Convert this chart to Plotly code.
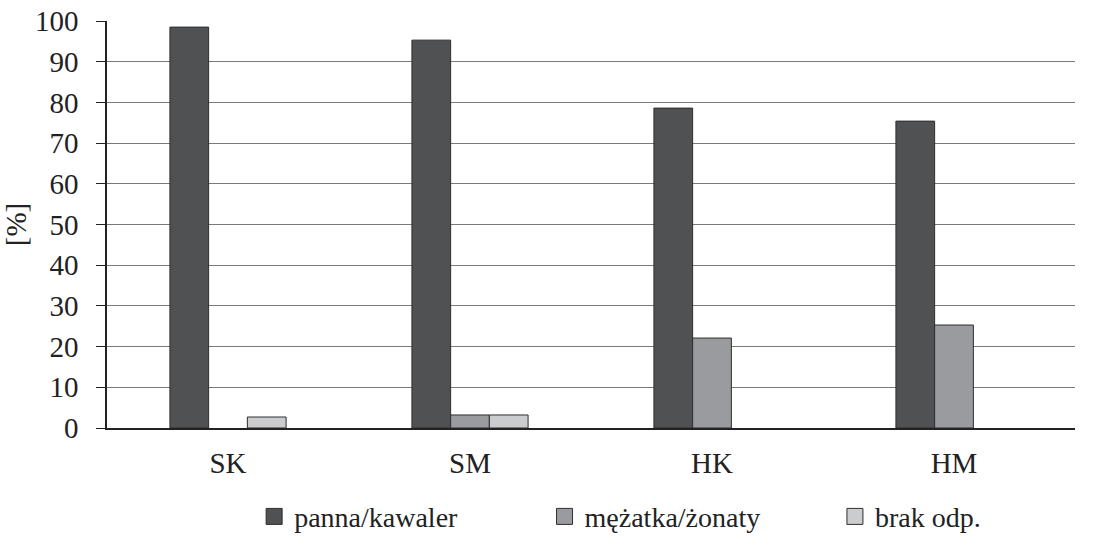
import plotly.graph_objects as go

categories = ["SK", "SM", "HK", "HM"]
panna_kawaler = [98.5, 95.3, 78.6, 75.4]
mezatka_zonaty = [None, 3.2, 22.1, 25.3]
brak_odp = [2.7, 3.2, None, None]

SERIES = [
    ("panna/kawaler", panna_kawaler, "#505153"),
    ("mężatka/żonaty", mezatka_zonaty, "#9a9b9e"),
    ("brak odp.", brak_odp, "#cbcccd"),
]
FONT = "Liberation Serif, DejaVu Serif, serif"
INK = "#222222"
EDGE = "#2e2e2e"
LEGEND_IDS = ["legend", "legend2", "legend3"]
LEGEND_X = [0.152, 0.452, 0.752]  # one little legend per series, spread out

fig = go.Figure()
for name, vals, col in SERIES:
    fig.add_trace(go.Bar(
        x=categories, y=vals, name=name, legendgroup=name, showlegend=False,
        marker=dict(color=col, line=dict(color=EDGE, width=1)),
    ))
# bigger square swatches for the legend
for (name, vals, col), lid in zip(SERIES, LEGEND_IDS):
    fig.add_trace(go.Scatter(
        x=[categories[0]], y=[None], name=name, legendgroup=name, mode="markers",
        marker=dict(symbol="square", size=16, color=col, line=dict(color=EDGE, width=1)),
        hoverinfo="skip", legend=lid,
    ))

leg = {}
for lid, lx in zip(LEGEND_IDS, LEGEND_X):
    leg[lid] = dict(orientation="h", x=lx, xanchor="left",
                    yref="container", y=0.036, yanchor="middle",
                    itemsizing="trace", bgcolor="rgba(0,0,0,0)",
                    font=dict(family=FONT, size=28, color=INK))

fig.update_layout(
    width=1093, height=536,
    margin=dict(l=107, r=18, t=21, b=108),
    paper_bgcolor="white", plot_bgcolor="white",
    barmode="group", bargap=0.52, bargroupgap=0,
    font=dict(family=FONT, size=29, color=INK),
    showlegend=True,
    xaxis=dict(showline=True, linecolor=INK, linewidth=1.5, ticks="",
               tickfont=dict(size=29), ticklabelstandoff=8, automargin=False),
    yaxis=dict(range=[0, 100], dtick=10, showline=True, linecolor=INK, linewidth=1.5,
               ticks="outside", ticklen=9, tickcolor=INK, showgrid=True,
               gridcolor="#7a7a7a", gridwidth=1, zeroline=False, automargin=False,
               ticklabelstandoff=12,
               title=dict(text="[%]", standoff=2, font=dict(size=29)),
               tickfont=dict(size=29)),
    **leg,
)

# drop the browser's default body margin so the figure sits at the page corner
fig.write_html("out.html", config={"displayModeBar": False},
               post_script="document.body.style.margin='0';")
